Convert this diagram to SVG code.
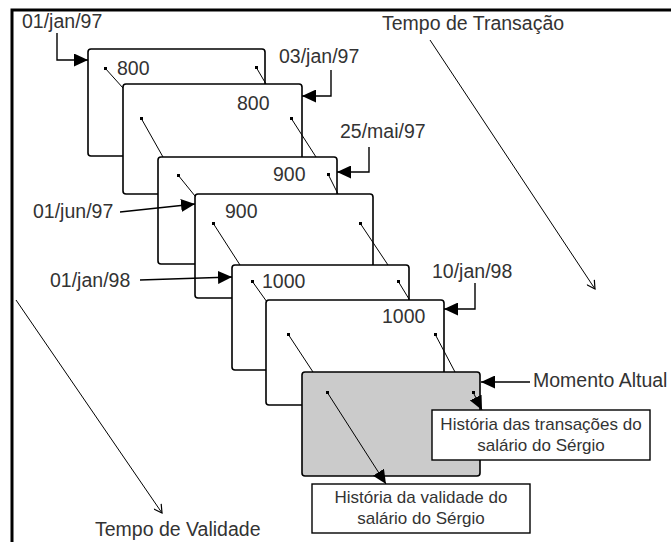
<svg xmlns="http://www.w3.org/2000/svg" width="671" height="542" viewBox="0 0 671 542">
<style>
.card{fill:#fff;stroke:#000;stroke-width:1.6}
.card.cur{fill:#cbcbcb}
.lbl{font-family:"Liberation Sans",Arial,sans-serif;font-size:19.5px;fill:#333}
.box{fill:#fff;stroke:#000;stroke-width:1.4}
.btxt{font-family:"Liberation Sans",Arial,sans-serif;font-size:17px;fill:#333;text-anchor:middle}
.arr{fill:none;stroke:#000;stroke-width:1.4;marker-end:url(#fill)}
.thin{fill:none;stroke:#000;stroke-width:1}
.axis{fill:none;stroke:#000;stroke-width:1;marker-end:url(#open)}
.dot{fill:#000}
</style>
<defs>
<marker id="fill" markerUnits="userSpaceOnUse" markerWidth="15" markerHeight="13" refX="14" refY="6.5" orient="auto">
<path d="M0,0 L14,6.5 L0,13 Z" fill="#000"/>
</marker>
<marker id="open" markerUnits="userSpaceOnUse" markerWidth="10" markerHeight="10" refX="9" refY="5" orient="auto">
<path d="M1,0.5 L9,5 L1,9.5" fill="none" stroke="#000" stroke-width="1.2"/>
</marker>
</defs>
<rect width="671" height="542" fill="#fff"/>
<g id="frame">
<path d="M12,542 V10 H671" fill="none" stroke="#000" stroke-width="3"/>
</g>
<g id="card1"><rect class="card" x="88" y="49" width="177" height="107" rx="3"/><text class="lbl" x="117" y="75">800</text></g>
<g id="card2"><rect class="card" x="123" y="84" width="179" height="110" rx="3"/><text class="lbl" x="237" y="110">800</text></g>
<g id="card3"><rect class="card" x="158" y="157" width="179" height="107" rx="3"/><text class="lbl" x="273" y="181">900</text></g>
<g id="card4"><rect class="card" x="195" y="194" width="178" height="104" rx="3"/><text class="lbl" x="225" y="218">900</text></g>
<g id="card5"><rect class="card" x="232" y="265" width="177" height="105" rx="3"/><text class="lbl" x="262" y="288">1000</text></g>
<g id="card6"><rect class="card" x="266" y="300" width="178" height="105" rx="3"/><text class="lbl" x="382" y="323">1000</text></g>
<g id="card7"><rect class="card cur" x="302" y="372" width="178" height="104" rx="3"/></g>
<g id="box-transacoes"><rect class="box" x="432" y="410" width="218" height="50"/><text class="btxt" x="541" y="430">História das transações do</text><text class="btxt" x="541" y="451">salário do Sérgio</text></g>
<g id="box-validade"><rect class="box" x="312" y="484" width="218" height="49"/><text class="btxt" x="421" y="503">História da validade do</text><text class="btxt" x="421" y="524">salário do Sérgio</text></g>
<g id="labels">
<text class="lbl" x="22" y="28">01/jan/97</text>
<text class="lbl" x="279" y="63">03/jan/97</text>
<text class="lbl" x="340" y="138">25/mai/97</text>
<text class="lbl" x="33" y="218">01/jun/97</text>
<text class="lbl" x="50" y="287">01/jan/98</text>
<text class="lbl" x="432" y="278">10/jan/98</text>
<text class="lbl" x="533" y="387">Momento Altual</text>
<text class="lbl" x="382" y="30">Tempo de Transação</text>
<text class="lbl" x="95" y="536">Tempo de Validade</text>
</g>
<g id="connectors">
<path class="arr" d="M57,33 V60 H88"/>
<path class="arr" d="M331,70 V96 H302"/>
<path class="arr" d="M369,147 V172 H337"/>
<path class="arr" d="M120,212 L195,204"/>
<path class="arr" d="M140,280 L232,277"/>
<path class="arr" d="M475,283 V309 H444"/>
<path class="arr" d="M530,382 H481"/>
<path class="axis" d="M430,40 L595,289"/>
<path class="axis" d="M16,300 L162,513"/>
<path class="thin" d="M105,68 L123,88 M256,67 L266,84 M141,118 L163,157 M291,118 L316,157 M178,175 L195,196 M328,174 L338,194 M213,223 L240,265 M360,223 L388,265 M252,281 L267,302 M398,281 L409,299 M288,334 L313,372 M435,334 L455,372"/>
<path class="thin" d="M327,392 L386,484" marker-end="url(#fill)"/>
<path class="thin" d="M473,392 L482,410" marker-end="url(#fill)"/>
<g class="dot">
<rect x="104" y="67" width="3" height="3"/><rect x="255" y="66" width="3" height="3"/>
<rect x="140" y="117" width="3" height="3"/><rect x="290" y="117" width="3" height="3"/>
<rect x="177" y="174" width="3" height="3"/><rect x="327" y="173" width="3" height="3"/>
<rect x="212" y="222" width="3" height="3"/><rect x="359" y="222" width="3" height="3"/>
<rect x="251" y="280" width="3" height="3"/><rect x="397" y="280" width="3" height="3"/>
<rect x="287" y="333" width="3" height="3"/><rect x="434" y="333" width="3" height="3"/>
<rect x="326" y="391" width="3" height="3"/><rect x="472" y="391" width="3" height="3"/>
</g>
</g>
</svg>
